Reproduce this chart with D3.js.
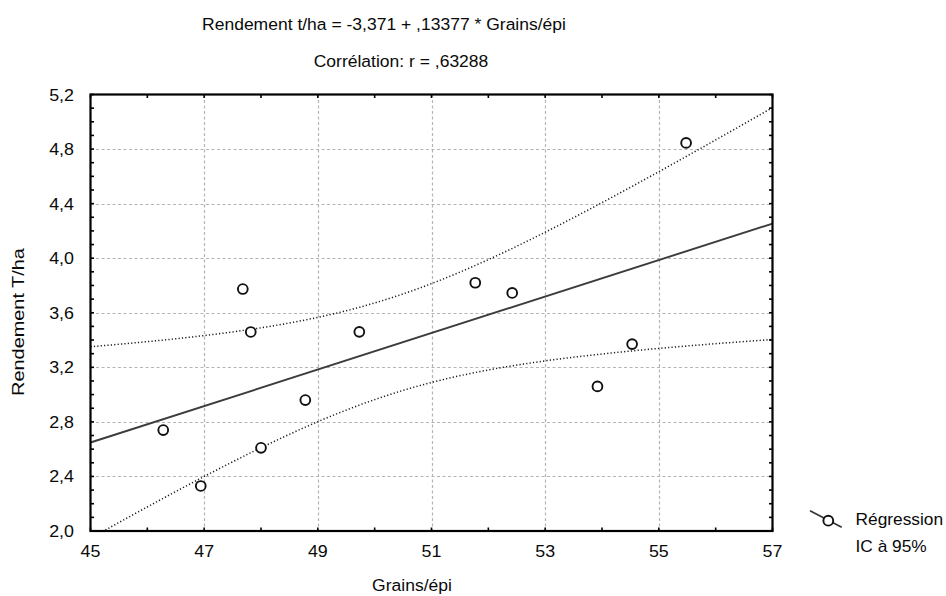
<!DOCTYPE html>
<html><head><meta charset="utf-8">
<script src="https://cdn.jsdelivr.net/npm/d3@7/dist/d3.min.js"></script>
<style>
body{margin:0;background:#fff}
svg{display:block}
text{font-family:"Liberation Sans",Arial,Helvetica,sans-serif;fill:#0a0a0a}
</style>
</head><body>
<svg id="chart" width="946" height="596"></svg>
<script>
// ---- data ----
const grains    = [46.28, 46.94, 47.68, 47.82, 48.00, 48.78, 49.73, 51.77, 52.42, 53.92, 54.53, 55.48];
const rendement = [2.74,  2.33,  3.774, 3.459, 2.61,  2.96,  3.46,  3.82,  3.745, 3.06,  3.37,  4.845];
const intercept = -3.371;
const slope = 0.13377;
const tCrit = 2.2281; // t(0.975, n-2 = 10)
const xTickValues = [45, 47, 49, 51, 53, 55, 57];
const yTickValues = [2.0, 2.4, 2.8, 3.2, 3.6, 4.0, 4.4, 4.8, 5.2];
const titleLines = ["Rendement t/ha = -3,371 + ,13377 * Grains/épi", "Corrélation: r = ,63288"];
const xLabel = "Grains/épi";
const yLabel = "Rendement T/ha";
const legendLabels = ["Régression", "IC à 95%"];

// ---- layout ----
const svg = d3.select("#chart");
const L = 90.5, R = 772.5, T = 94.5, B = 531;
const x = d3.scaleLinear().domain([45, 57]).range([L, R]);
const y = d3.scaleLinear().domain([2.0, 5.2]).range([B, T]);
const fmt = v => d3.format(".1f")(v).replace(".", ",");
const FS = 17;

function wideText(parent, px, py, str, opts = {}) {
  const sx = opts.sx || 1.03;
  const rot = opts.rotate ? ` rotate(${opts.rotate})` : "";
  return parent.append("text")
    .attr("transform", `translate(${px},${py})${rot} scale(${sx},1)`)
    .attr("text-anchor", opts.anchor || "start")
    .style("font-size", (opts.size || FS) + "px")
    .text(str);
}

svg.append("rect").attr("width", 946).attr("height", 596).attr("fill", "#fff");

svg.append("defs").append("clipPath").attr("id", "plotclip")
  .append("rect").attr("x", L).attr("y", T).attr("width", R - L).attr("height", B - T);

// grid
const grid = svg.append("g").attr("stroke", "#b4b4b4").attr("stroke-width", 1.2).attr("stroke-dasharray", "3,2.5");
grid.selectAll("line.gx").data(xTickValues.slice(1, -1)).join("line")
  .attr("x1", d => Math.round(x(d)) + 0.5).attr("x2", d => Math.round(x(d)) + 0.5)
  .attr("y1", T).attr("y2", B);
grid.selectAll("line.gy").data(yTickValues.slice(1, -1)).join("line")
  .attr("y1", d => Math.round(y(d)) + 0.5).attr("y2", d => Math.round(y(d)) + 0.5)
  .attr("x1", L).attr("x2", R);

// regression stats from data
const n = grains.length;
const mx = d3.mean(grains);
const sxx = d3.sum(grains, v => (v - mx) * (v - mx));
const sse = d3.sum(grains.map((v, i) => {
  const r = rendement[i] - (intercept + slope * v);
  return r * r;
}));
const s = Math.sqrt(sse / (n - 2));
const fit = v => intercept + slope * v;
const half = v => tCrit * s * Math.sqrt(1 / n + (v - mx) * (v - mx) / sxx);
const xs = d3.range(0, 201).map(i => 45 + i * 12 / 200);

const plot = svg.append("g").attr("clip-path", "url(#plotclip)");
const lineGen = d3.line().x(d => x(d[0])).y(d => y(d[1]));
[1, -1].forEach(sg => {
  plot.append("path").datum(xs.map(v => [v, fit(v) + sg * half(v)]))
    .attr("d", lineGen).attr("fill", "none").attr("stroke", "#1a1a1a")
    .attr("stroke-width", 1.5).attr("stroke-dasharray", "1.2,2.2");
});
plot.append("path").datum([[45, fit(45)], [57, fit(57)]])
  .attr("d", lineGen).attr("fill", "none").attr("stroke", "#3c3c3c").attr("stroke-width", 1.9);

// points
svg.append("g").selectAll("circle").data(grains).join("circle")
  .attr("cx", d => x(d)).attr("cy", (d, i) => y(rendement[i]))
  .attr("r", 4.9).attr("fill", "#fff").attr("stroke", "#111").attr("stroke-width", 1.9);

// frame and ticks
const frame = svg.append("g").attr("stroke", "#000");
frame.append("rect").attr("x", L).attr("y", T).attr("width", R - L).attr("height", B - T)
  .attr("fill", "none").attr("stroke-width", 2.2);
const xMinor = d3.range(45, 57.01, 1);
const yMinor = d3.range(0, 33).map(i => 2.0 + i * 0.1);
const TL = 3.5;
frame.selectAll("line.tb").data(xMinor).join("line")
  .attr("x1", d => x(d)).attr("x2", d => x(d)).attr("y1", B).attr("y2", B - TL).attr("stroke-width", 1.6);
frame.selectAll("line.tt").data(xMinor).join("line")
  .attr("x1", d => x(d)).attr("x2", d => x(d)).attr("y1", T).attr("y2", T + TL).attr("stroke-width", 1.6);
frame.selectAll("line.tl").data(yMinor).join("line")
  .attr("y1", d => y(d)).attr("y2", d => y(d)).attr("x1", L).attr("x2", L + TL).attr("stroke-width", 1.6);
frame.selectAll("line.tr").data(yMinor).join("line")
  .attr("y1", d => y(d)).attr("y2", d => y(d)).attr("x1", R).attr("x2", R - TL).attr("stroke-width", 1.6);

// tick labels
yTickValues.forEach(v => wideText(svg, 74, y(v) + 6, fmt(v), {anchor: "end", sx: 1.05}));
xTickValues.forEach(v => wideText(svg, x(v), 557, String(v), {anchor: "middle", sx: 1.05}));

// titles
wideText(svg, 384, 29.5, titleLines[0], {anchor: "middle", sx: 1.03});
wideText(svg, 401, 66.5, titleLines[1], {anchor: "middle", sx: 1.03});

// axis labels
wideText(svg, 412, 591, xLabel, {anchor: "middle", sx: 1.03});
wideText(svg, 23.5, 322, yLabel, {anchor: "middle", rotate: -90, sx: 1.17});

// legend
const lg = svg.append("g");
lg.append("line").attr("x1", 810).attr("y1", 510.7).attr("x2", 841.7).attr("y2", 527.3)
  .attr("stroke", "#333").attr("stroke-width", 1.6);
lg.append("circle").attr("cx", 828.3).attr("cy", 520.7).attr("r", 4.9)
  .attr("fill", "#fff").attr("stroke", "#111").attr("stroke-width", 1.9);
wideText(lg, 855.5, 524.5, legendLabels[0], {sx: 1.02});
wideText(lg, 855.5, 551.5, legendLabels[1], {sx: 1.02});
</script>
</body></html>
